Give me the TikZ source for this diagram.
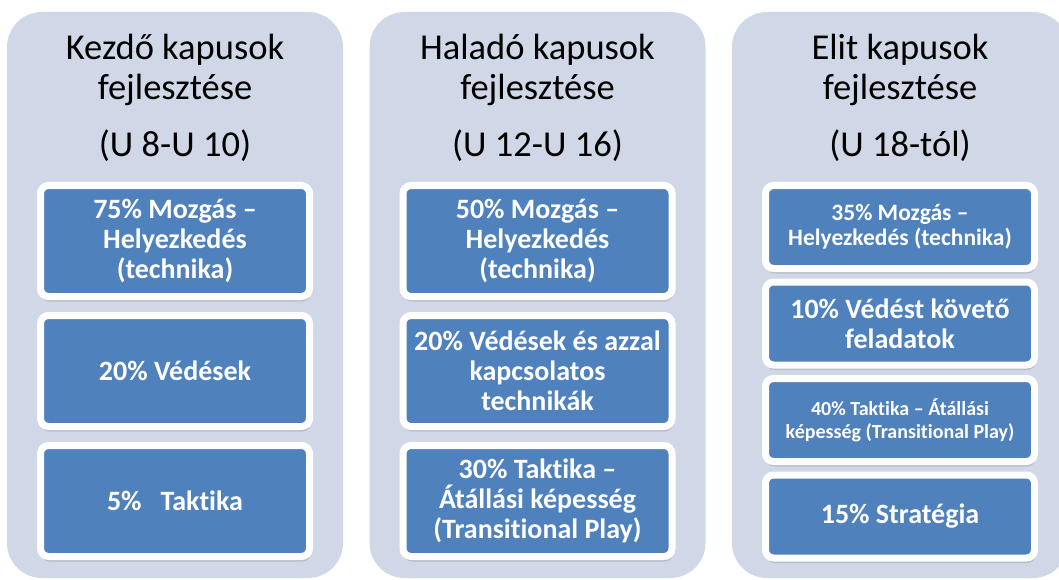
\documentclass[tikz,border=0pt]{standalone}
\usepackage{fontspec}
\setmainfont{Carlito}[Ligatures=NoCommon]
\usetikzlibrary{positioning,shadows}
\definecolor{oszlopszin}{HTML}{D0D8E8}
\definecolor{blokkszin}{HTML}{4F81BD}

\begin{document}
\begin{tikzpicture}[x=1pt, y=-1pt,
        oszlop/.style={rectangle, fill=oszlopszin, rounded corners=35pt, minimum width=336pt, minimum height=566pt, inner sep=0pt},
        fejlec/.style={font=\fontsize{36.5}{40}\selectfont, align=center, inner sep=0pt, anchor=base},
        blokk/.style={rectangle, draw=white, line width=7pt, fill=blokkszin, rounded corners=8pt, minimum width=269pt, minimum height=111pt, inner sep=2pt, align=center, text=white, font=\fontsize{28}{30}\selectfont\bfseries, drop shadow={shadow xshift=1pt, shadow yshift=-5pt, opacity=.3}},
        kisblokk/.style={blokk, minimum height=83pt},
      ]
      \useasboundingbox (0,0) rectangle (1059,580);
      \clip (0,0) rectangle (1059,580);
      % oszlopok
      \node [oszlop] (kezdo) at (175,295) {};
      \node [oszlop] (halado) at (537.5,295) {};
      \node [oszlop] (elit) at (900,295) {};
      % fejlecek
      \node [fejlec] (kezdocim) at (175,100) {Kezdő kapusok\\fejlesztése};
      \node [fejlec] (kezdokor) at (175,157) {(U 8-U 10)};
      \node [fejlec] (haladocim) at (537.5,100) {Haladó kapusok\\fejlesztése};
      \node [fejlec] (haladokor) at (537.5,157) {(U 12-U 16)};
      \node [fejlec] (elitcim) at (900,100) {Elit kapusok\\fejlesztése};
      \node [fejlec] (elitkor) at (900,157) {(U 18-tól)};
      % kezdo
      \node [blokk] (k1) at (175,241) {75\% Mozgás –\\Helyezkedés\\(technika)};
      \node [blokk, below=12pt of k1] (k2) {20\% Védések};
      \node [blokk, below=12pt of k2] (k3) {5\%\ \ \ Taktika};
      % halado
      \node [blokk] (h1) at (537.5,241) {50\% Mozgás –\\Helyezkedés\\(technika)};
      \node [blokk, below=12pt of h1] (h2) {20\% Védések és azzal\\kapcsolatos\\technikák};
      \node [blokk, below=12pt of h2] (h3) {30\% Taktika –\\Átállási képesség\\(Transitional Play)};
      % elit
      \node [kisblokk, font=\fontsize{23.5}{25}\selectfont\bfseries] (e1) at (900,227) {35\% Mozgás –\\Helyezkedés (technika)};
      \node [kisblokk, font=\fontsize{28}{30}\selectfont\bfseries, below=6.5pt of e1] (e2) {10\% Védést követő\\feladatok};
      \node [kisblokk, font=\fontsize{20}{23}\selectfont\bfseries, below=6.5pt of e2] (e3) {40\% Taktika – Átállási\\képesség (Transitional Play)};
      \node [kisblokk, font=\fontsize{28}{30}\selectfont\bfseries, below=6.5pt of e3] (e4) {15\% Stratégia};
    \end{tikzpicture}
\end{document}
